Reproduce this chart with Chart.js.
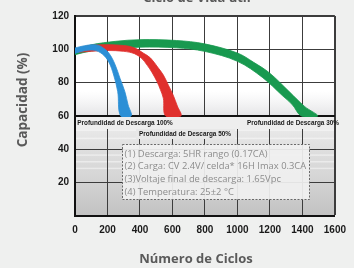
<!DOCTYPE html>
<html>
<head>
<meta charset="utf-8">
<script src="https://cdn.jsdelivr.net/npm/chart.js@4.4.1/dist/chart.umd.min.js"></script>
<style>
  html, body { margin: 0; padding: 0; background: #eff0ef; }
  #wrap { width: 354px; height: 268px; position: relative; }
</style>
</head>
<body>
<div id="wrap"><canvas id="cycleChart"></canvas></div>
<script>
// Ciclo de Vida útil – capacity vs. number of cycles for three depths of discharge

const chartTitle = "Ciclo de Vida útil";
const xTitle = "Número de Ciclos";
const yTitle = "Capacidad (%)";

const xTicks = [0, 200, 400, 600, 800, 1000, 1200, 1400, 1600];
const yTicks = [20, 40, 60, 80, 100, 120];

// each band: outer edge (left -> right), then inner edge (right -> left)
const band100 = [
  [0, 100.8], [60, 102.2], [120, 102.8], [158, 101.8], [208, 97.8], [247, 90.8],
  [277, 82.6], [307, 74.6], [327, 66.6], [346, 60],
  [281, 60], [263, 74.6], [238, 84.6], [208, 92.4], [168, 97.2], [120, 99.4],
  [60, 99.2], [0, 97.6],
];
const band50 = [
  [20, 100.8], [100, 102.4], [200, 102.8], [300, 102.3], [366, 100.9], [420, 97.8],
  [465, 94.8], [510, 89.2], [544, 84.6], [575, 78.5], [604, 72.6], [630, 66], [652, 60],
  [558, 60], [544, 70.6], [525, 76], [505, 80.6], [475, 86], [445, 90.4], [410, 94.6],
  [366, 97.4], [300, 98.8], [200, 99.3], [100, 98.8], [20, 98.2],
];
const band30 = [
  [0, 99.6], [100, 102.7], [250, 104.8], [400, 105.8], [624, 105.3], [797, 103.3],
  [1000, 97.8], [1100, 92.2], [1198, 85.8], [1317, 74.8], [1415, 65.6], [1495, 60],
  [1394, 60], [1338, 66.8], [1275, 72.4], [1156, 83], [1000, 92.8], [797, 98.8],
  [624, 100.9], [400, 101.3], [250, 100.4], [100, 99], [0, 96.8],
];

const dodLabels = [
  { text: "Profundidad de Descarga 100%", x: 125, y: 123 },
  { text: "Profundidad de Descarga 50%", x: 185, y: 134 },
  { text: "Profundidad de Descarga 30%", x: 293, y: 123 },
];

const noteLines = [
  "(1) Descarga: 5HR rango (0.17CA)",
  "(2) Carga: CV 2.4V/ celda* 16H Imax 0.3CA",
  "(3)Voltaje final de descarga: 1.65Vpc",
  "(4) Temperatura: 25±2 °C",
];

const toPoints = (arr) => arr.map(([x, y]) => ({ x, y }));

function bandDataset(label, arr, color) {
  return {
    label,
    data: toPoints(arr),
    backgroundColor: color,
    borderColor: color,
    borderWidth: 0.8,
    pointRadius: 0,
    tension: 0.35,
    fill: "shape",
  };
}

const backgroundPlugin = {
  id: "bg",
  beforeDraw(chart) {
    const { ctx, chartArea: a, scales } = chart;
    const y60 = scales.y.getPixelForValue(60);
    const y75 = scales.y.getPixelForValue(75);
    ctx.save();
    ctx.fillStyle = "#eff0ef";
    ctx.fillRect(0, 0, chart.width, chart.height);

    ctx.fillStyle = "#ffffff";
    ctx.fillRect(a.left, a.top, a.width, y60 - a.top);
    const g1 = ctx.createLinearGradient(0, y75, 0, y60);
    g1.addColorStop(0, "rgba(236,236,238,0)");
    g1.addColorStop(1, "rgba(228,228,230,1)");
    ctx.fillStyle = g1;
    ctx.fillRect(a.left, y75, a.width, y60 - y75);

    const g2 = ctx.createLinearGradient(0, y60, 0, a.bottom);
    g2.addColorStop(0, "#efefef");
    g2.addColorStop(0.35, "#dedede");
    g2.addColorStop(0.6, "#d6d6d6");
    g2.addColorStop(1, "#c2c2c2");
    ctx.fillStyle = g2;
    ctx.fillRect(a.left, y60, a.width, a.bottom - y60);

    ctx.fillStyle = "rgba(255,255,255,0.45)";
    [52, 47, 37, 33, 29].forEach((v) => {
      const yy = scales.y.getPixelForValue(v);
      ctx.fillRect(a.left, yy, a.width, 1.5);
    });
    ctx.restore();
  },
};

const overlayPlugin = {
  id: "overlay",
  afterDatasetsDraw(chart) {
    const { ctx, chartArea: a, scales } = chart;
    const y60 = scales.y.getPixelForValue(60);
    ctx.save();

    // strip under the 60% line
    ctx.fillStyle = "#eeeeee";
    ctx.fillRect(a.left + 1, y60 + 1, a.width - 2, 12);
    ctx.fillStyle = "#e8e8e8";
    ctx.fillRect(136, y60 + 13, 99, 10);

    ctx.fillStyle = "#1a1a1a";
    ctx.font = "bold 6.4px 'Liberation Sans', Arial, sans-serif";
    ctx.textAlign = "center";
    ctx.textBaseline = "middle";
    dodLabels.forEach((l) => ctx.fillText(l.text, l.x, l.y));

    // notes box
    const bx = 122.5, by = 144.5, bw = 187, bh = 55;
    ctx.fillStyle = "rgba(240,240,240,0.93)";
    ctx.fillRect(bx, by, bw, bh);
    ctx.setLineDash([2, 1.5]);
    ctx.strokeStyle = "#6a6a6a";
    ctx.lineWidth = 1;
    ctx.strokeRect(bx, by, bw, bh);
    ctx.setLineDash([]);

    ctx.fillStyle = "#8c8c8c";
    ctx.font = "9.4px 'Open Sans', sans-serif";
    ctx.textAlign = "left";
    noteLines.forEach((t, i) => ctx.fillText(t, 124.5, 154 + i * 12.7));
    ctx.restore();
  },
  afterDraw(chart) {
    const { ctx } = chart;
    ctx.save();
    ctx.fillStyle = "#5a5a5a";
    ctx.textAlign = "center";
    ctx.textBaseline = "alphabetic";
    ctx.font = "bold 13px 'Open Sans', sans-serif";
    ctx.fillText(chartTitle, 197, 2);
    ctx.fillText(xTitle, 196, 263);
    ctx.translate(27, 100);
    ctx.rotate(-Math.PI / 2);
    ctx.font = "bold 13.5px 'Open Sans', sans-serif";
    ctx.fillText(yTitle, 0, 0);
    ctx.restore();
  },
};

const tickFont = { family: "'Liberation Sans', Arial, sans-serif", size: 10, weight: "bold" };

new Chart(document.getElementById("cycleChart"), {
  type: "line",
  data: {
    datasets: [
      bandDataset("Profundidad de Descarga 100%", band100, "#2b8fd6"),
      bandDataset("Profundidad de Descarga 50%", band50, "#e0302d"),
      bandDataset("Profundidad de Descarga 30%", band30, "#18994f"),
    ],
  },
  options: {
    responsive: true,
    maintainAspectRatio: false,
    animation: false,
    events: [],
    layout: { padding: { left: 0, top: 16, right: 10, bottom: 0 } },
    plugins: {
      legend: { display: false },
      tooltip: { enabled: false },
    },
    scales: {
      x: {
        type: "linear",
        min: 0,
        max: 1600,
        afterBuildTicks: (s) => { s.ticks = xTicks.map((v) => ({ value: v })); },
        afterFit: (s) => { s.height = 52; },
        ticks: {
          font: tickFont,
          color: "#1a1a1a",
          padding: 8,
          maxRotation: 0,
          autoSkip: false,
          callback: (v) => String(v),
        },
        grid: {
          drawTicks: false,
          color: "#3c3c3c",
          lineWidth: (c) => (c.tick && c.tick.value === 1600 ? 2 : 1),
        },
        border: { color: "#111", width: 2 },
      },
      y: {
        min: 0,
        max: 120,
        afterBuildTicks: (s) => { s.ticks = yTicks.map((v) => ({ value: v })); },
        afterFit: (s) => { s.width = 75; },
        ticks: { font: tickFont, color: "#1a1a1a", padding: 6, callback: (v) => String(v) },
        grid: {
          drawTicks: false,
          color: (c) => (c.tick && c.tick.value === 60 ? "#111" : "#3c3c3c"),
          lineWidth: (c) => (c.tick && (c.tick.value === 60 || c.tick.value === 120) ? 2 : 1),
        },
        border: { color: "#111", width: 2 },
      },
    },
  },
  plugins: [backgroundPlugin, overlayPlugin],
});
</script>
</body>
</html>
